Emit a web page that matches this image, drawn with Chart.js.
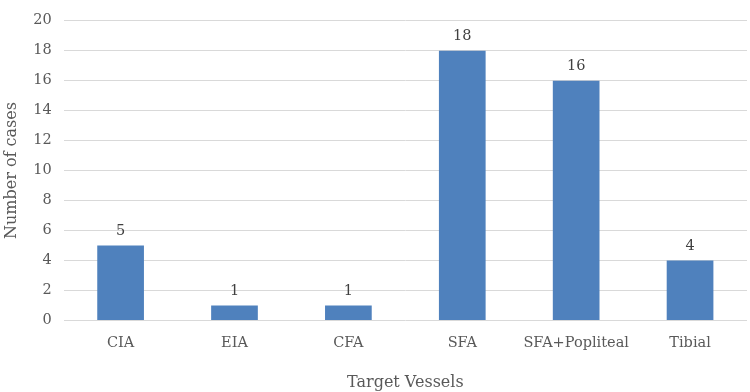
<!DOCTYPE html>
<html>
<head>
<meta charset="utf-8">
<script src="https://cdn.jsdelivr.net/npm/chart.js@4"></script>
<style>
  html, body { margin: 0; padding: 0; background: #fff; }
  #wrap { width: 750px; height: 392px; position: relative; }
</style>
</head>
<body>
<div id="wrap"><canvas id="chart"></canvas></div>
<script>
// data
const vessels = ["CIA", "EIA", "CFA", "SFA", "SFA+Popliteal", "Tibial"];
const cases = [5, 1, 1, 18, 16, 4];

const fontFamily = "'DejaVu Serif', 'Liberation Serif', serif";
const textColor = "#595959";

// draw the value above each bar
const barLabels = {
  id: "barLabels",
  afterDatasetsDraw(chart) {
    const ctx = chart.ctx;
    const meta = chart.getDatasetMeta(0);
    ctx.save();
    ctx.font = "14.5px " + fontFamily;
    ctx.fillStyle = "#404040";
    ctx.textAlign = "center";
    ctx.textBaseline = "bottom";
    meta.data.forEach((bar, i) => {
      ctx.fillText(String(cases[i]), bar.x, bar.y - 7);
    });
    ctx.restore();
  }
};

new Chart(document.getElementById("chart"), {
  type: "bar",
  data: {
    labels: vessels,
    datasets: [{
      label: "Number of cases",
      data: cases,
      backgroundColor: "#4F81BD",
      categoryPercentage: 1,
      barPercentage: 0.41,
    }],
  },
  options: {
    responsive: true,
    maintainAspectRatio: false,
    animation: false,
    layout: { padding: { top: 2, right: 3, bottom: 0, left: 2 } },
    plugins: {
      legend: { display: false },
      tooltip: { enabled: false },
    },
    scales: {
      x: {
        grid: { display: false },
        border: { display: false },
        ticks: { color: textColor, font: { family: fontFamily, size: 14.5 }, padding: 6 },
        title: {
          display: true,
          text: "Target Vessels",
          color: textColor,
          font: { family: fontFamily, size: 16 },
          padding: { top: 15, bottom: 0 },
        },
      },
      y: {
        min: 0,
        max: 20,
        ticks: { stepSize: 2, color: textColor, font: { family: fontFamily, size: 14.5 }, padding: 12 },
        grid: { color: "#d9d9d9", drawTicks: false },
        border: { display: false },
        title: {
          display: true,
          text: "Number of cases",
          color: textColor,
          font: { family: fontFamily, size: 16 },
          padding: { top: 0, bottom: 0 },
        },
      },
    },
  },
  plugins: [barLabels],
});
</script>
</body>
</html>
